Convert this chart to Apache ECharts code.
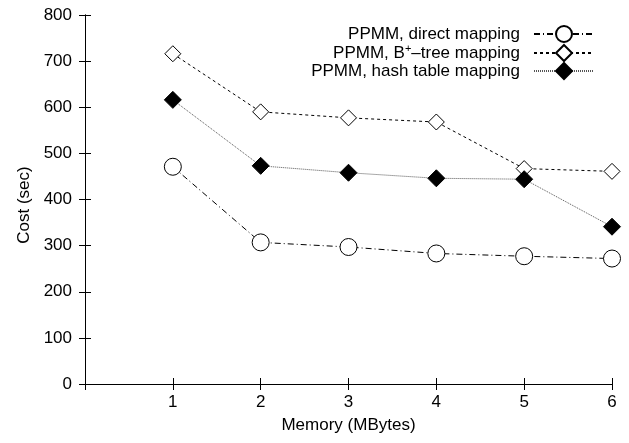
<!DOCTYPE html>
<html>
<head>
<meta charset="utf-8">
<script src="https://cdn.jsdelivr.net/npm/echarts@6/dist/echarts.min.js"></script>
<style>
html,body{margin:0;padding:0;background:#fff;}
#chart{width:629px;height:443px;}
</style>
</head>
<body>
<div id="chart"></div>
<script>
const memory = [1, 2, 3, 4, 5, 6];
const directMapping = [471, 307, 297, 283, 277, 272];
const bTreeMapping = [716, 590, 577, 568, 467, 461];
const hashMapping = [616, 473, 458, 446, 444, 341];
const yTicks = [0, 100, 200, 300, 400, 500, 600, 700, 800];
const seriesNames = ['PPMM, direct mapping', 'PPMM, B+–tree mapping', 'PPMM, hash table mapping'];

const FONT = 'Liberation Sans';
const FS = 17;
const pairs = arr => memory.map((m, i) => [m, arr[i]]);

const chart = echarts.init(document.getElementById('chart'), null, {renderer: 'canvas'});
const axisCommon = {
  axisLine: {show: true, lineStyle: {color: '#000', width: 1}},
  axisTick: {show: true, inside: true, length: 6, lineStyle: {color: '#000', width: 1}},
  splitLine: {show: false}
};
chart.setOption({
  animation: false,
  backgroundColor: '#fff',
  grid: {left: 85, right: 17, top: 15, bottom: 59, containLabel: false},
  legend: {
    orient: 'vertical',
    align: 'right',
    right: 29,
    top: 20,
    itemWidth: 60,
    itemHeight: 20,
    itemGap: 0,
    textStyle: {
      fontFamily: FONT, fontSize: FS, color: '#000', padding: [0, 9, 0, 0],
      rich: {
        sup: {fontFamily: FONT, fontSize: 11, color: '#000', padding: [0, 0, 9, 0]}
      }
    },
    formatter: name => name === seriesNames[1] ? 'PPMM, B{sup|+}–tree mapping' : name,
    data: seriesNames
  },
  xAxis: [
    Object.assign({
      type: 'value', min: 0, max: 6, interval: 1, position: 'bottom',
      name: 'Memory (MBytes)', nameLocation: 'middle', nameGap: 33, nameMoveOverlap: false,
      nameTextStyle: {fontFamily: FONT, fontSize: FS, color: '#000'},
      axisLabel: {fontFamily: FONT, fontSize: FS, color: '#000', margin: 10,
        formatter: v => (memory.indexOf(v) >= 0 ? String(v) : '')}
    }, axisCommon),
    Object.assign({
      type: 'value', min: 0, max: 6, interval: 1, position: 'top',
      axisLabel: {show: false}
    }, axisCommon)
  ],
  yAxis: [
    Object.assign({
      type: 'value', min: yTicks[0], max: yTicks[yTicks.length - 1], interval: 100, position: 'left',
      name: 'Cost (sec)', nameLocation: 'middle', nameGap: 52, nameMoveOverlap: false,
      nameTextStyle: {fontFamily: FONT, fontSize: FS, color: '#000', padding: [0, 11, 0, 0]},
      axisLabel: {fontFamily: FONT, fontSize: FS, color: '#000', margin: 13}
    }, axisCommon),
    Object.assign({
      type: 'value', min: yTicks[0], max: yTicks[yTicks.length - 1], interval: 100, position: 'right',
      axisLabel: {show: false}
    }, axisCommon)
  ],
  series: [
    {
      name: seriesNames[0], type: 'line', data: pairs(directMapping),
      symbol: 'circle', symbolSize: 17,
      itemStyle: {color: '#fff', borderColor: '#000', borderWidth: 1},
      lineStyle: {color: '#000', width: 1, type: [6, 3, 1, 3]},
      z: 3
    },
    {
      name: seriesNames[1], type: 'line', data: pairs(bTreeMapping),
      symbol: 'diamond', symbolSize: 16,
      itemStyle: {color: '#fff', borderColor: '#000', borderWidth: 1},
      lineStyle: {color: '#000', width: 1, type: [3, 3]},
      z: 3
    },
    {
      name: seriesNames[2], type: 'line', data: pairs(hashMapping),
      symbol: 'diamond', symbolSize: 17,
      itemStyle: {color: '#000', borderColor: '#000', borderWidth: 1},
      lineStyle: {color: '#555', width: 1, type: [1, 1]},
      z: 3
    }
  ]
});
</script>
</body>
</html>
